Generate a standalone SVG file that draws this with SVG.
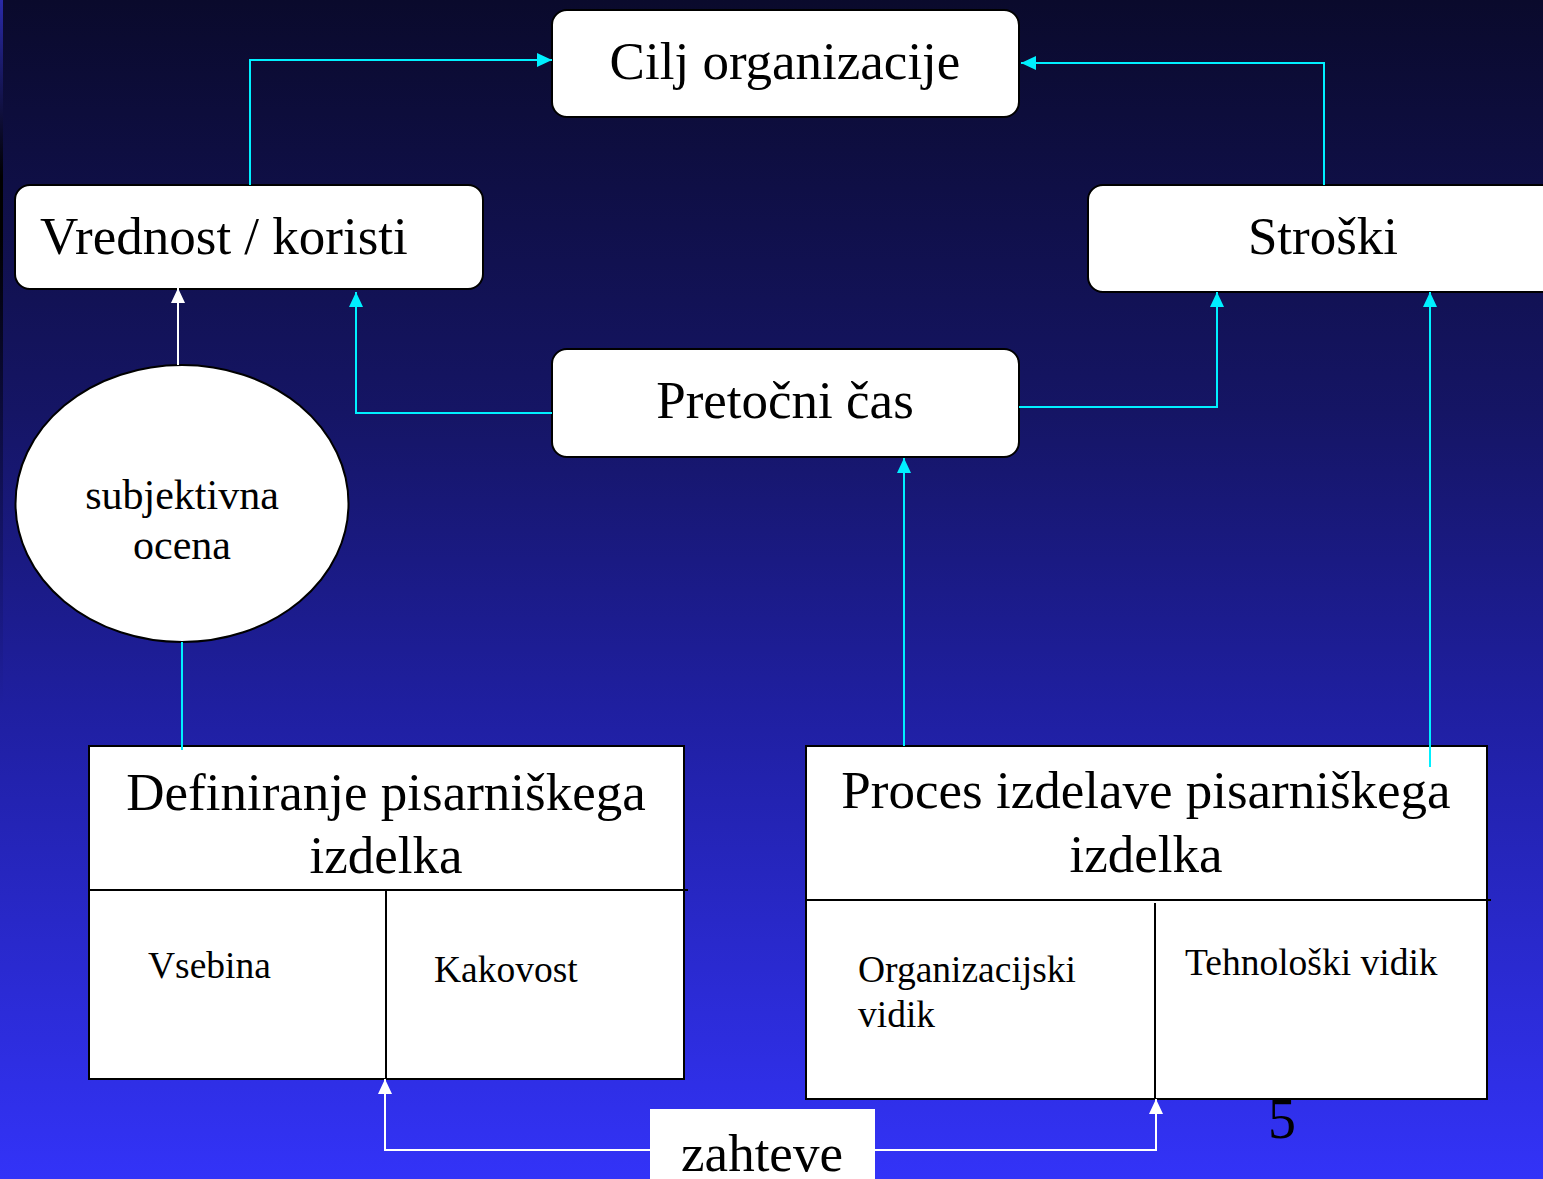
<svg xmlns="http://www.w3.org/2000/svg" width="1543" height="1179" viewBox="0 0 1543 1179">
<style>
  .rbox { fill:#ffffff; stroke:#000000; stroke-width:2; }
  .box { fill:#ffffff; stroke:#000000; stroke-width:2; }
  .div { stroke:#000000; stroke-width:2; fill:none; }
  .t { font-family:"Liberation Serif","Times New Roman",serif; fill:#000000; }
  .big { font-size:53px; }
  .mid { font-size:42px; }
  .sm { font-size:37.5px; }
  .c { stroke:#00f0ff; stroke-width:2; fill:none; marker-end:url(#ac); }
  .cn { stroke:#00f0ff; stroke-width:2; fill:none; }
  .w { stroke:#ffffff; stroke-width:2; fill:none; marker-end:url(#aw); }
  .wn { stroke:#ffffff; stroke-width:2; fill:none; }
</style>
<defs>
  <linearGradient id="bg" x1="0" y1="0" x2="0" y2="1">
    <stop offset="0" stop-color="#0a0a2c"/>
    <stop offset="0.35" stop-color="#151565"/>
    <stop offset="0.6" stop-color="#1f1fa0"/>
    <stop offset="1" stop-color="#3333f8"/>
  </linearGradient>
  <linearGradient id="strip" x1="0" y1="0" x2="0" y2="1">
    <stop offset="0" stop-color="#2a2aa8"/>
    <stop offset="0.15" stop-color="#000000"/>
    <stop offset="0.2" stop-color="#000000"/>
    <stop offset="0.6" stop-color="#1f1fa0"/>
    <stop offset="1" stop-color="#3333f8"/>
  </linearGradient>
  <marker id="ac" markerUnits="userSpaceOnUse" markerWidth="15" markerHeight="14" refX="15" refY="7" orient="auto">
    <path d="M0,0 L15,7 L0,14 z" fill="#00f0ff"/>
  </marker>
  <marker id="aw" markerUnits="userSpaceOnUse" markerWidth="15" markerHeight="14" refX="15" refY="7" orient="auto">
    <path d="M0,0 L15,7 L0,14 z" fill="#ffffff"/>
  </marker>
</defs>
<rect x="0" y="0" width="1543" height="1179" fill="url(#bg)"/>
<rect x="0" y="0" width="3" height="1179" fill="url(#strip)"/>

<g id="cilj">
  <rect class="rbox" x="552" y="10" width="467" height="107" rx="15"/>
  <text class="t big" x="785" y="79" text-anchor="middle">Cilj organizacije</text>
</g>
<g id="vrednost">
  <rect class="rbox" x="15" y="185" width="468" height="104" rx="15"/>
  <text class="t big" x="40" y="254" font-size="53.5">Vrednost / koristi</text>
</g>
<g id="stroski">
  <rect class="rbox" x="1088" y="185" width="470" height="107" rx="15"/>
  <text class="t big" x="1323" y="254" text-anchor="middle">Stroški</text>
</g>
<g id="pretocni">
  <rect class="rbox" x="552" y="349" width="467" height="108" rx="15"/>
  <text class="t big" x="785" y="418" text-anchor="middle">Pretočni čas</text>
</g>
<g id="subjektivna">
  <ellipse cx="182" cy="503.5" rx="166.5" ry="138.5" fill="#ffffff" stroke="#000000" stroke-width="2"/>
  <text class="t mid" x="182" y="509" text-anchor="middle">subjektivna</text>
  <text class="t mid" x="182" y="559" text-anchor="middle">ocena</text>
</g>
<g id="definiranje">
  <rect class="box" x="89" y="746" width="595" height="333"/>
  <line class="div" x1="89" y1="890" x2="688" y2="890"/>
  <line class="div" x1="386" y1="890" x2="386" y2="1079"/>
  <text class="t big" x="386" y="810" text-anchor="middle">Definiranje pisarniškega</text>
  <text class="t big" x="386" y="873" text-anchor="middle">izdelka</text>
  <text class="t sm" x="148" y="978">Vsebina</text>
  <text class="t sm" x="434" y="982">Kakovost</text>
</g>
<g id="proces">
  <rect class="box" x="806" y="746" width="681" height="353"/>
  <line class="div" x1="806" y1="900" x2="1491" y2="900"/>
  <line class="div" x1="1155" y1="903" x2="1155" y2="1099"/>
  <text class="t big" x="1146" y="808" text-anchor="middle">Proces izdelave pisarniškega</text>
  <text class="t big" x="1146" y="872" text-anchor="middle">izdelka</text>
  <text class="t sm" x="858" y="982">Organizacijski</text>
  <text class="t sm" x="858" y="1027">vidik</text>
  <text class="t sm" x="1185" y="975">Tehnološki vidik</text>
</g>

<g id="connectors">
  <path class="c" d="M250,185 V60 H552"/>
  <path class="c" d="M1324,185 V63 H1021"/>
  <path class="w" d="M178,365 V288"/>
  <path class="c" d="M552,413 H356 V292"/>
  <path class="c" d="M1019,407 H1217 V292"/>
  <path class="c" d="M1430,767 V292"/>
  <path class="c" d="M904,746 V458"/>
  <path class="cn" d="M182,642 V750"/>
  <path class="w" d="M650,1150 H385 V1079"/>
  <path class="w" d="M874,1150 H1156 V1099"/>
</g>

<g id="zahteve">
  <rect x="650" y="1109" width="225" height="75" fill="#ffffff"/>
  <text class="t big" x="762" y="1171" text-anchor="middle">zahteve</text>
</g>
<text class="t" x="1282" y="1138" text-anchor="middle" font-size="56">5</text>
</svg>
